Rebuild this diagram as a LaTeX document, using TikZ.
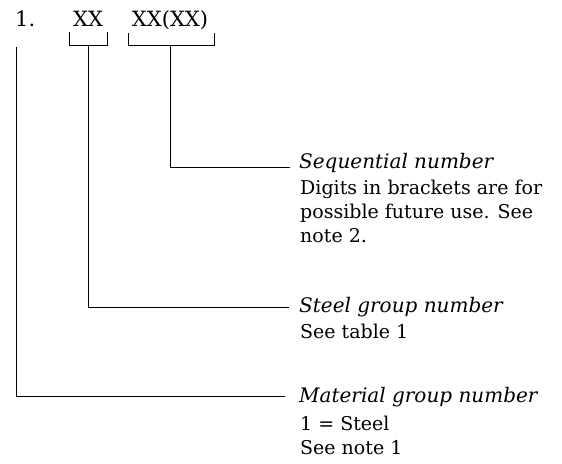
\documentclass[tikz,border=0pt]{standalone}
\usepackage{fontspec}
\setmainfont{DejaVu Serif}
\begin{document}
\begin{tikzpicture}[x=1pt,y=-1pt,
  lead/.style={line width=0.8pt,line cap=butt},
  code/.style={inner sep=0pt,font=\fontsize{21}{24}\selectfont},
  head/.style={inner sep=0pt,anchor=base west,font=\fontsize{20}{22}\selectfont\itshape},
  body/.style={inner sep=0pt,anchor=base west,font=\fontsize{19}{22}\selectfont}]
\useasboundingbox (0,0) rectangle (562,463);
% code line
\node[code,anchor=base west] (one) at (15,27) {1.};
\node[code,anchor=base] (xx) at (88,27) {XX};
\node[code,anchor=base] (xxxx) at (170,27) {XX(XX)};
% brackets
\draw[lead] (69,32) -- (69,45) -- (107,45) -- (107,32);
\draw[lead] (128,33) -- (128,45) -- (214,45) -- (214,33);
\coordinate (b1) at (88,45);
\coordinate (b2) at (170,45);
\coordinate (b0) at (16,47);
% labels
\node[head] (seq) at (299,168) {Sequential number};
\node[body] (seq1) at (300,194) {Digits in brackets are for};
\node[body] (seq2) at (300,218) {possible future use. See};
\node[body] (seq3) at (300,242) {note 2.};
\node[head] (stl) at (299,312) {Steel group number};
\node[body] (stl1) at (300,338) {See table 1};
\node[head] (mat) at (299,402) {Material group number};
\node[body] (mat1) at (300,430) {1 = Steel};
\node[body] (mat2) at (300,454) {See note 1};
% leaders
\coordinate (e2) at (290,167);
\coordinate (e1) at (289,307);
\coordinate (e0) at (285,396);
\draw[lead] (b2) |- (e2);
\draw[lead] (b1) |- (e1);
\draw[lead] (b0) |- (e0);
\end{tikzpicture}
\end{document}
